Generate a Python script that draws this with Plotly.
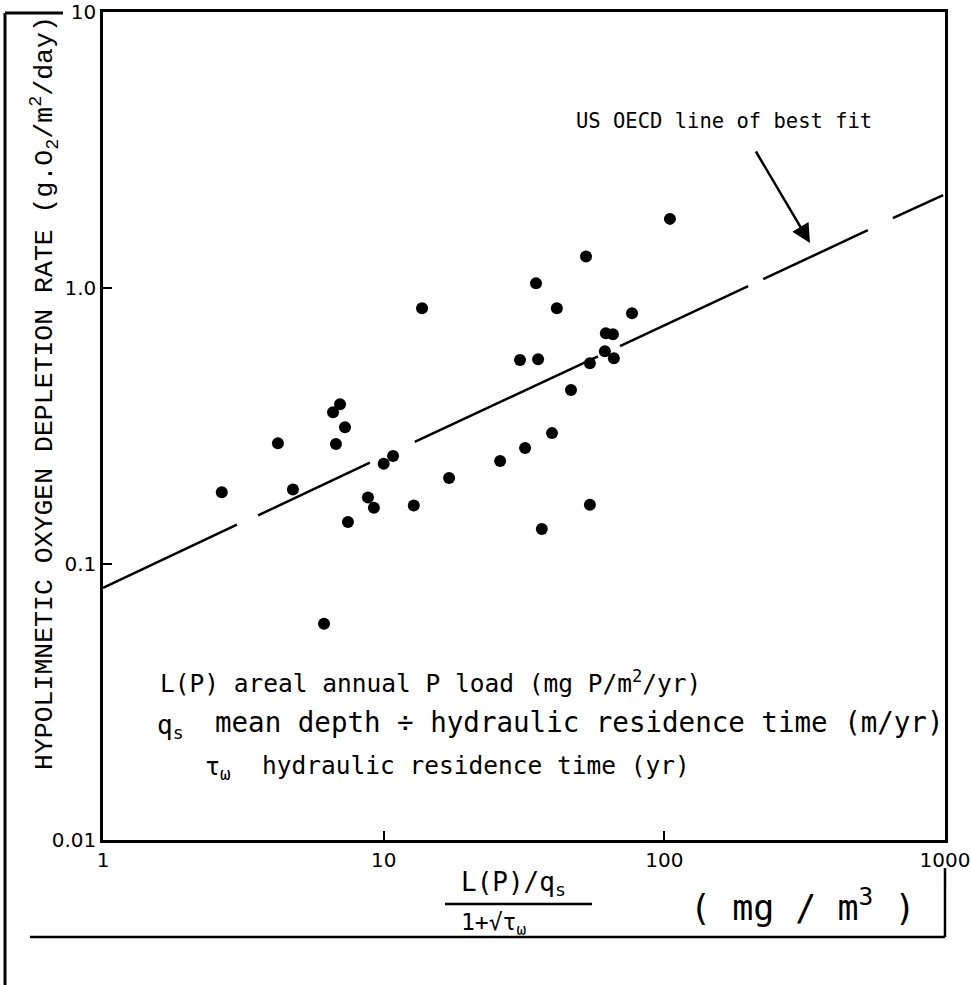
import plotly.graph_objects as go

# ---- data (log-log chart) ----
load_x = [52.6, 34.9, 41.4, 13.7, 104.7, 76.7, 61.9, 65.6, 61.4, 66.1, 30.6, 35.5,
          54.3, 46.5, 39.8, 31.9, 26.0, 17.1, 12.8, 54.3, 36.6, 6.99, 6.60, 7.28,
          6.76, 4.20, 2.65, 4.75, 10.8, 10.0, 8.79, 9.23, 7.46, 6.13]
depletion_y = [1.30, 1.04, 0.844, 0.844, 1.78, 0.81, 0.686, 0.680, 0.590, 0.557, 0.548, 0.552,
               0.534, 0.427, 0.298, 0.263, 0.236, 0.205, 0.163, 0.164, 0.134, 0.379, 0.355, 0.313,
               0.272, 0.274, 0.182, 0.186, 0.246, 0.231, 0.174, 0.160, 0.142, 0.0608]

# best-fit line, drawn as broken pieces (start, end pairs)
fit_x = [1, 3.0, 3.57, 8.93, 12.9, 58.0, 69.5, 199, 225, 531, 652, 985]
fit_y = [0.082, 0.139, 0.150, 0.233, 0.277, 0.565, 0.616, 1.015, 1.076, 1.62, 1.79, 2.17]

x_ticks = [1, 10, 100, 1000]
x_ticktext = ["1", "10", "100", "1000"]
y_ticks = [0.01, 0.1, 1, 10]
y_ticktext = ["0.01", "0.1", "1.0", "10"]

# ---- layout geometry (pixels) ----
W, H = 971, 985
L, R, T, B = 103, 945, 12, 840


def PX(px):
    return (px - L) / (R - L)


def PY(py):
    return (B - py) / (B - T)


seg_x, seg_y = [], []
for i in range(0, len(fit_x), 2):
    seg_x += [fit_x[i], fit_x[i + 1], None]
    seg_y += [fit_y[i], fit_y[i + 1], None]

fig = go.Figure()
fig.add_trace(go.Scatter(x=seg_x, y=seg_y, mode="lines",
                         line=dict(color="black", width=2.5),
                         hoverinfo="skip", showlegend=False))
fig.add_trace(go.Scatter(x=load_x, y=depletion_y, mode="markers",
                         marker=dict(color="black", size=12),
                         showlegend=False))

mono = "DejaVu Sans Mono"
anns = []
# annotation arrow and label
anns.append(dict(x=PX(574), y=PY(121), xref="paper", yref="paper", xanchor="left",
                 yanchor="middle", showarrow=False, text="US OECD line of best fit",
                 font=dict(family=mono, size=20.5, color="black")))
anns.append(dict(x=PX(810), y=PY(243), xref="paper", yref="paper",
                 ax=755 - 810, ay=150 - 243, axref="pixel", ayref="pixel",
                 showarrow=True, arrowhead=2, arrowsize=1.5, arrowwidth=2.5,
                 arrowcolor="black", text=""))
# explanatory text
anns.append(dict(x=PX(158), y=PY(682), xref="paper", yref="paper", xanchor="left",
                 yanchor="middle", showarrow=False,
                 text="L(P) areal annual P load (mg P/m<sup>2</sup>/yr)",
                 font=dict(family=mono, size=24.5, color="black")))
anns.append(dict(x=PX(155), y=PY(726), xref="paper", yref="paper", xanchor="left",
                 yanchor="middle", showarrow=False, text="q<sub>s</sub>",
                 font=dict(family=mono, size=26, color="black")))
anns.append(dict(x=PX(213), y=PY(722), xref="paper", yref="paper", xanchor="left",
                 yanchor="middle", showarrow=False,
                 text="mean depth ÷ hydraulic residence time (m/yr)",
                 font=dict(family=mono, size=27.5, color="black")))
anns.append(dict(x=PX(203), y=PY(768), xref="paper", yref="paper", xanchor="left",
                 yanchor="middle", showarrow=False, text="τ<sub>ω</sub>",
                 font=dict(family=mono, size=25, color="black")))
anns.append(dict(x=PX(260), y=PY(765), xref="paper", yref="paper", xanchor="left",
                 yanchor="middle", showarrow=False,
                 text="hydraulic residence time (yr)",
                 font=dict(family=mono, size=24.5, color="black")))
# y-axis title
anns.append(dict(x=PX(45), y=PY(393), xref="paper", yref="paper", xanchor="center",
                 yanchor="middle", showarrow=False, textangle=-90,
                 text="HYPOLIMNETIC OXYGEN DEPLETION RATE (g.O<sub>2</sub>/m<sup>2</sup>/day)",
                 font=dict(family="Liberation Mono", size=26.5, color="black")))
# x-axis title (fraction + units)
anns.append(dict(x=PX(513), y=PY(883), xref="paper", yref="paper", xanchor="center",
                 yanchor="middle", showarrow=False, text="L(P)/q<sub>s</sub>",
                 font=dict(family=mono, size=26, color="black")))
anns.append(dict(x=PX(493), y=PY(924), xref="paper", yref="paper", xanchor="center",
                 yanchor="middle", showarrow=False, text="1+√τ<sub>ω</sub>",
                 font=dict(family=mono, size=23, color="black")))
anns.append(dict(x=PX(688), y=PY(905), xref="paper", yref="paper", xanchor="left",
                 yanchor="middle", showarrow=False, text="( mg / m<sup>3</sup> )",
                 font=dict(family=mono, size=35, color="black")))

shapes = [
    # fraction bar
    dict(type="line", xref="paper", yref="paper", x0=PX(445), x1=PX(592),
         y0=PY(904), y1=PY(904), line=dict(color="black", width=2.5)),
    # outer frame pieces
    dict(type="line", xref="paper", yref="paper", x0=PX(5), x1=PX(5),
         y0=PY(13), y1=PY(985), line=dict(color="black", width=3)),
    dict(type="line", xref="paper", yref="paper", x0=PX(5), x1=PX(63),
         y0=PY(13), y1=PY(13), line=dict(color="black", width=3)),
    dict(type="line", xref="paper", yref="paper", x0=PX(30), x1=PX(945),
         y0=PY(937), y1=PY(937), line=dict(color="black", width=2.5)),
    dict(type="line", xref="paper", yref="paper", x0=PX(945), x1=PX(945),
         y0=PY(868), y1=PY(937), line=dict(color="black", width=2.5)),
]

tickfont = dict(family="DejaVu Sans", size=20, color="black")
fig.update_layout(
    width=W, height=H,
    margin=dict(l=L, r=W - R, t=T, b=H - B, pad=0),
    paper_bgcolor="white", plot_bgcolor="white",
    annotations=anns, shapes=shapes,
    xaxis=dict(type="log", range=[0, 3], tickvals=x_ticks, ticktext=x_ticktext,
               ticks="inside", ticklen=9, tickwidth=2, tickcolor="black",
               showline=True, mirror=True, linecolor="black", linewidth=2.5,
               showgrid=False, zeroline=False, tickfont=tickfont, automargin=False,
               ticklabeloverflow="allow"),
    yaxis=dict(type="log", range=[-2, 1], tickvals=y_ticks, ticktext=y_ticktext,
               ticks="inside", ticklen=9, tickwidth=2, tickcolor="black",
               showline=True, mirror=True, linecolor="black", linewidth=2.5,
               showgrid=False, zeroline=False, tickfont=tickfont, automargin=False,
               ticklabeloverflow="allow"),
)

fig.write_html("out.html")
